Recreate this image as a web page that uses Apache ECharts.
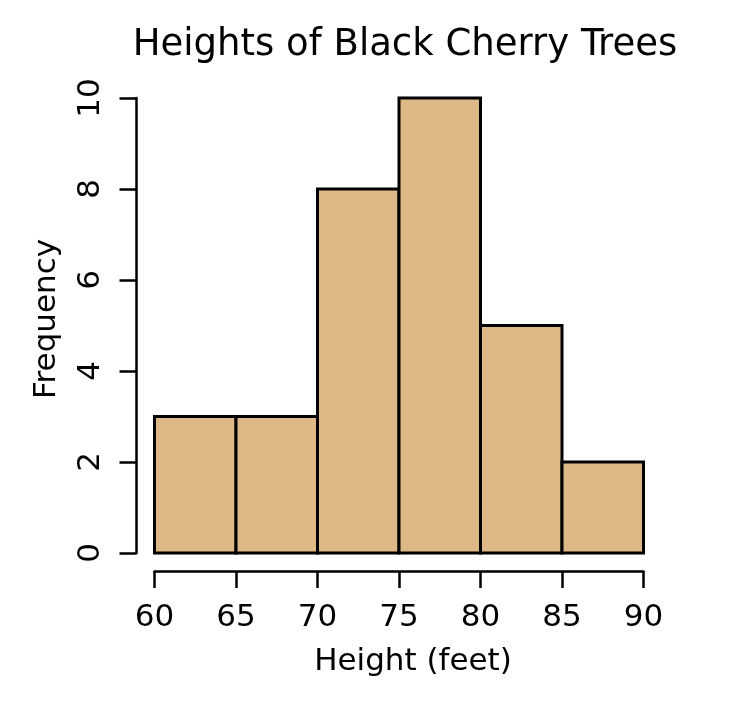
<!DOCTYPE html>
<html>
<head>
<meta charset="utf-8">
<style>
  html, body { margin: 0; padding: 0; background: #ffffff; }
  #main { width: 742px; height: 712px; }
</style>
<script src="https://cdn.jsdelivr.net/npm/echarts@6/dist/echarts.min.js"></script>
</head>
<body>
<div id="main"></div>
<script>
// histogram bins (feet) and counts
var binStarts = [60, 65, 70, 75, 80, 85];
var binEnds = [65, 70, 75, 80, 85, 90];
var counts = [3, 3, 8, 10, 5, 2];
var xTicks = [60, 65, 70, 75, 80, 85, 90];
var yTicks = [0, 2, 4, 6, 8, 10];

var font = 'DejaVu Sans';
var chart = echarts.init(document.getElementById('main'), null, { renderer: 'canvas' });

var data = binStarts.map(function (s, i) {
  return [s, binEnds[i], counts[i]];
});

var option = {
  backgroundColor: '#ffffff',
  animation: false,
  graphic: [{
    type: 'text',
    x: 405,
    y: 45,
    style: {
      text: 'Heights of Black Cherry Trees',
      font: '37px "' + font + '"',
      fill: '#000',
      align: 'center',
      verticalAlign: 'middle'
    }
  }, {
    type: 'text',
    x: 413,
    y: 662,
    style: {
      text: 'Height (feet)',
      font: '31px "' + font + '"',
      fill: '#000',
      align: 'center',
      verticalAlign: 'middle'
    }
  }, {
    type: 'text',
    x: 47,
    y: 319,
    rotation: Math.PI / 2,
    style: {
      text: 'Frequency',
      font: '31px "' + font + '"',
      fill: '#000',
      align: 'center',
      verticalAlign: 'middle'
    }
  }],
  grid: { left: 154.5, right: 98.5, top: 98, bottom: 159 },
  xAxis: {
    type: 'value',
    min: xTicks[0],
    max: xTicks[xTicks.length - 1],
    interval: 5,
    offset: 18,
    axisLine: { show: true, onZero: false, lineStyle: { color: '#000', width: 2.5 } },
    axisTick: { show: true, length: 17, lineStyle: { color: '#000', width: 2.5 } },
    axisLabel: { fontFamily: font, fontSize: 31, color: '#000', margin: 31 },
    splitLine: { show: false }
  },
  yAxis: {
    type: 'value',
    min: yTicks[0],
    max: yTicks[yTicks.length - 1],
    interval: 2,
    offset: 18,
    axisLine: { show: true, onZero: false, lineStyle: { color: '#000', width: 2.5 } },
    axisTick: { show: true, length: 17, lineStyle: { color: '#000', width: 2.5 } },
    axisLabel: { fontFamily: font, fontSize: 31, color: '#000', margin: 30, rotate: 90 },
    splitLine: { show: false }
  },
  series: [{
    type: 'custom',
    data: data,
    encode: { x: [0, 1], y: 2 },
    renderItem: function (params, api) {
      var p0 = api.coord([api.value(0), api.value(2)]);
      var p1 = api.coord([api.value(1), 0]);
      return {
        type: 'rect',
        shape: { x: p0[0], y: p0[1], width: p1[0] - p0[0], height: p1[1] - p0[1] },
        style: { fill: '#DEB887', stroke: '#000', lineWidth: 3 }
      };
    }
  }]
};

chart.setOption(option);
</script>
</body>
</html>
